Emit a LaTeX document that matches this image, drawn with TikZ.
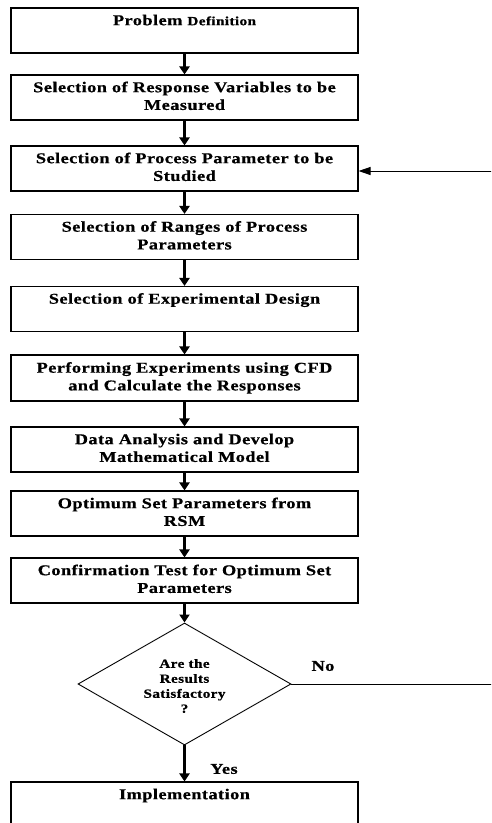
\documentclass[tikz,border=0pt]{standalone}
\usepackage{fontspec}
\setmainfont{Liberation Serif}
\newfontfamily\boxfont[FakeStretch=1.22,LetterSpace=3,BoldFeatures={FakeBold=0.6}]{Liberation Serif}
\usetikzlibrary{shapes.geometric,arrows.meta}
\begin{document}
\begin{tikzpicture}[x=1pt,y=-1pt,
  box/.style={draw=black,line width=1.1pt,minimum width=347pt,minimum height=45pt,inner sep=0pt,align=center,
    font=\boxfont\bfseries\fontsize{15}{17.7}\selectfont},
  decision/.style={diamond,draw=black,line width=0.9pt,minimum width=213pt,minimum height=122pt,inner sep=0pt},
  dtext/.style={align=center,inner sep=0pt,font=\boxfont\bfseries\fontsize{12.5}{15}\selectfont},
  lbl/.style={inner sep=0pt,font=\boxfont\bfseries\fontsize{15}{17}\selectfont},
  arr/.style={line width=2.2pt,-{Triangle[length=8pt,width=10pt]}},
  fb/.style={line width=0.9pt,-{Triangle[length=12pt,width=8pt]}}
]
\useasboundingbox (0,0) rectangle (491,823);
\fill[white] (0,0) rectangle (491,823);
\clip (0,0) rectangle (491,823);

\node[box] (b1) at (184.5,30.5) {\strut Problem {\fontsize{12.5}{17.7}\selectfont Definition}\\ \strut};
\node[box] (b2) at (184.5,97.5) {\strut Selection of Response Variables to be\\ \strut Measured};
\node[box] (b3) at (184.5,168.5) {\strut Selection of Process Parameter to be\\ \strut Studied};
\node[box] (b4) at (184.5,237) {\strut Selection of Ranges of Process\\ \strut Parameters};
\node[box] (b5) at (184.5,309) {\strut Selection of Experimental Design\\ \strut};
\node[box,minimum height=46pt] (b6) at (184.5,378) {\strut Performing Experiments using CFD\\ \strut and Calculate the Responses};
\node[box] (b7) at (184.5,449.5) {\strut Data Analysis and Develop\\ \strut Mathematical Model};
\node[box] (b8) at (184.5,513.5) {\strut Optimum Set Parameters from\\ \strut RSM};
\node[box] (b9) at (184.5,580.5) {\strut Confirmation Test for Optimum Set\\ \strut Parameters};
\node[decision] (dec) at (184.5,684) {};
\node[dtext] (dect) at (184.5,686) {Are the\\Results\\Satisfactory\\?};
\node[box] (imp) at (184.5,804.5) {\strut Implementation\\ \strut};

\node[lbl] (no) at (323,666) {No};
\node[lbl] (yes) at (224,769) {Yes};

\draw[arr] (b1) -- (b2);
\draw[arr] (b2) -- (b3);
\draw[arr] (b3) -- (b4);
\draw[arr] (b4) -- (b5);
\draw[arr] (b5) -- (b6);
\draw[arr] (b6) -- (b7);
\draw[arr] (b7) -- (b8);
\draw[arr] (b8) -- (b9);
\draw[arr] (b9) -- (dec);
\draw[arr] (dec) -- (imp);

\coordinate (rt) at (495,684);
\draw[fb] (dec.east) -- (rt) |- ([yshift=-2.5pt]b3.east);
\end{tikzpicture}
\end{document}
